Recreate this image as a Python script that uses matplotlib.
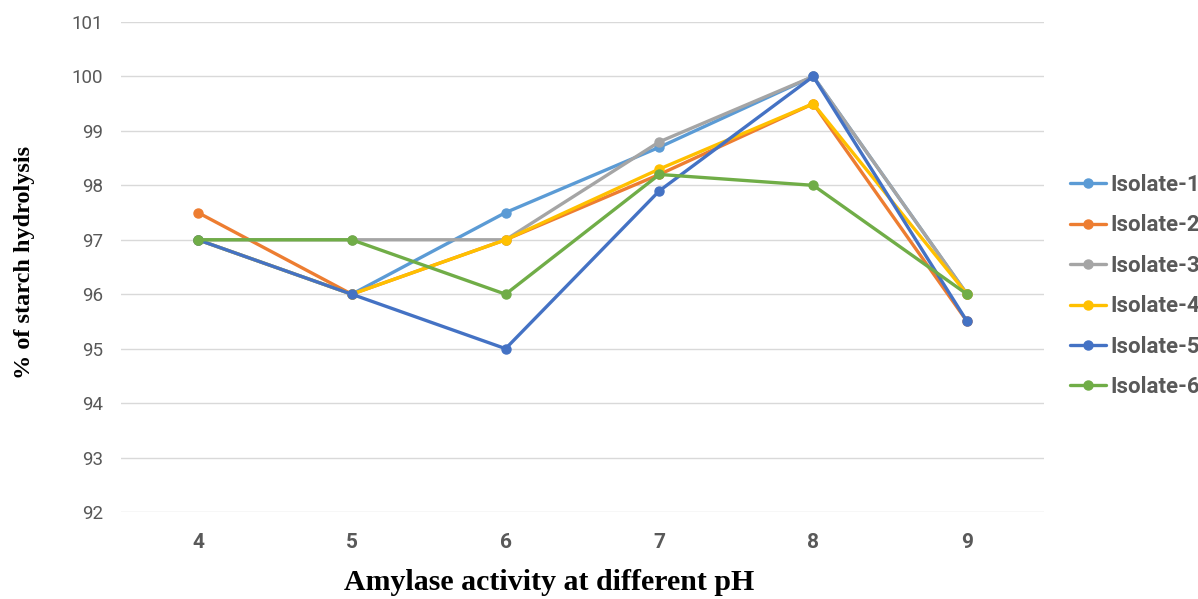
import matplotlib
matplotlib.use("Agg")
import matplotlib.pyplot as plt

ph = [4, 5, 6, 7, 8, 9]
series_names = ["Isolate-1", "Isolate-2", "Isolate-3", "Isolate-4", "Isolate-5", "Isolate-6"]
isolate1 = [97, 96, 97.5, 98.7, 100, 96]
isolate2 = [97.5, 96, 97, 98.2, 99.5, 95.5]
isolate3 = [97, 97, 97, 98.8, 100, 96]
isolate4 = [97, 96, 97, 98.3, 99.5, 96]
isolate5 = [97, 96, 95, 97.9, 100, 95.5]
isolate6 = [97, 97, 96, 98.2, 98, 96]
colors = ["#5B9BD5", "#ED7D31", "#A5A5A5", "#FFC000", "#4472C4", "#70AD47"]
yticks = [92, 93, 94, 95, 96, 97, 98, 99, 100, 101]

data = [isolate1, isolate2, isolate3, isolate4, isolate5, isolate6]

W, H = 1198, 599
fig = plt.figure(figsize=(W / 100, H / 100), dpi=100)
ax = fig.add_axes([121 / W, 1 - 512 / H, (1044 - 121) / W, (512 - 22) / H])

for name, vals, c in zip(series_names, data, colors):
    ax.plot(ph, vals, color=c, lw=2.4, marker="o", ms=6.5, label=name,
            solid_capstyle="round", solid_joinstyle="round")

ax.set_xlim(3.5, 9.5)
ax.set_ylim(92, 101)
ax.set_yticks(yticks)
ax.set_xticks(ph)
ax.grid(axis="y", color="#D9D9D9", lw=1)
ax.set_axisbelow(True)
for s in ax.spines.values():
    s.set_visible(False)
ax.tick_params(length=0)
ax.tick_params(axis="y", pad=13, labelsize=13.5, labelcolor="#595959")
ax.tick_params(axis="x", pad=15, labelsize=15, labelcolor="#595959")
for lab in ax.get_xticklabels():
    lab.set_fontweight("bold")
    lab.set_family("Roboto")
for lab in ax.get_yticklabels():
    lab.set_family("Roboto")

leg = fig.legend(loc="upper left", bbox_to_anchor=(1070 / W, 1 - 174 / H), frameon=False,
                 prop={"family": "Roboto", "weight": "bold", "size": 16},
                 labelspacing=0.83, handlelength=1.6, handletextpad=0.2,
                 borderpad=0, borderaxespad=0)
for t in leg.get_texts():
    t.set_color("#595959")

fig.text(549 / W, 1 - 583 / H, "Amylase activity at different pH", ha="center", va="center",
         family="Liberation Serif", weight="bold", fontsize=21.5)
fig.text(25 / W, 1 - 262 / H, "% of starch hydrolysis", ha="center", va="center", rotation=90,
         family="Liberation Serif", weight="bold", fontsize=17.5)

fig.savefig("out.png", dpi=100)
